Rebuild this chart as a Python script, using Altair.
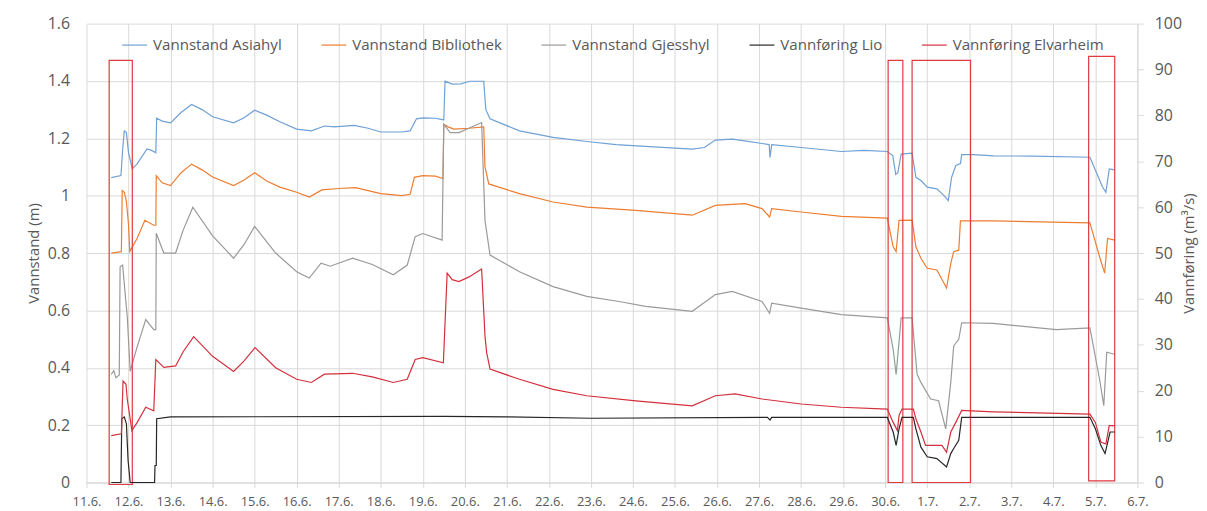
import json
import altair as alt
import pandas as pd

# ---------------- data ----------------
series_names = ["Vannstand Asiahyl", "Vannstand Bibliothek", "Vannstand Gjesshyl",
                "Vannføring Lio", "Vannføring Elvarheim"]
series_colors = ["#6FA0D6", "#ED7D31", "#9A9A9A", "#262626", "#D42F3C"]
series_widths = [1.2, 1.2, 1.6, 1.2, 1.3]

day_labels = ["11.6.", "12.6.", "13.6.", "14.6.", "15.6.", "16.6.", "17.6.", "18.6.",
              "19.6.", "20.6.", "21.6.", "22.6.", "23.6.", "24.6.", "25.6.", "26.6.",
              "27.6.", "28.6.", "29.6.", "30.6.", "1.7.", "2.7.", "3.7.", "4.7.",
              "5.7.", "6.7."]
left_ticks = [0, 0.2, 0.4, 0.6, 0.8, 1, 1.2, 1.4, 1.6]
right_ticks = [0, 10, 20, 30, 40, 50, 60, 70, 80, 90, 100]

# days after 11.6. 00:00
asia_t = [0.59, 0.82, 0.86, 0.90, 0.95, 1.00, 1.09, 1.20, 1.44, 1.55, 1.65, 1.67, 1.80, 2.00,
          2.25, 2.50, 2.75, 3.00, 3.50, 3.75, 4.00, 4.30, 4.60, 5.00, 5.35, 5.66, 5.90, 6.37,
          6.70, 7.00, 7.50, 7.70, 7.85, 8.00, 8.30, 8.50, 8.53, 8.70, 8.90, 9.12, 9.45, 9.50,
          9.60, 10.30, 11.10, 11.90, 12.60, 13.30, 14.41, 14.70, 14.96, 15.36, 15.70, 16.07,
          16.24, 16.26, 16.30, 17.00, 17.96, 18.50, 19.05, 19.18, 19.25, 19.30, 19.38, 19.64,
          19.73, 19.85, 20.00, 20.23, 20.40, 20.50, 20.58, 20.68, 20.79, 20.82, 21.10, 21.57,
          22.50, 23.87, 24.17, 24.25, 24.33, 24.46]
asia_v = [1.063, 1.070, 1.160, 1.226, 1.220, 1.150, 1.094, 1.110, 1.163, 1.158, 1.150, 1.270,
          1.260, 1.254, 1.290, 1.318, 1.300, 1.275, 1.254, 1.272, 1.298, 1.280, 1.258, 1.232,
          1.226, 1.243, 1.240, 1.245, 1.235, 1.222, 1.222, 1.226, 1.268, 1.271, 1.270, 1.264,
          1.399, 1.389, 1.390, 1.399, 1.399, 1.300, 1.268, 1.226, 1.203, 1.189, 1.178, 1.172,
          1.162, 1.168, 1.194, 1.197, 1.190, 1.182, 1.178, 1.133, 1.178, 1.168, 1.154, 1.158,
          1.154, 1.140, 1.074, 1.080, 1.145, 1.148, 1.064, 1.053, 1.030, 1.024, 1.000, 0.983,
          1.064, 1.105, 1.112, 1.143, 1.143, 1.139, 1.138, 1.134, 1.030, 1.012, 1.093, 1.090]

bibl_t = [0.59, 0.83, 0.85, 0.90, 0.95, 1.00, 1.03, 1.20, 1.39, 1.60, 1.65, 1.66, 1.80, 2.00,
          2.25, 2.50, 2.75, 3.00, 3.50, 3.75, 4.00, 4.30, 4.60, 5.00, 5.30, 5.60, 6.00, 6.40,
          7.00, 7.50, 7.70, 7.80, 8.00, 8.30, 8.48, 8.50, 8.60, 8.74, 9.10, 9.45, 9.48, 9.57,
          10.30, 11.10, 11.90, 13.07, 14.41, 14.96, 15.67, 16.07, 16.25, 16.30, 17.00, 17.96,
          19.05, 19.19, 19.26, 19.33, 19.64, 19.73, 19.85, 20.00, 20.23, 20.46, 20.56, 20.63,
          20.75, 20.79, 21.57, 23.87, 24.10, 24.22, 24.29, 24.46]
bibl_v = [0.800, 0.805, 1.018, 1.012, 0.980, 0.900, 0.805, 0.850, 0.914, 0.897, 0.897, 1.070,
          1.045, 1.035, 1.080, 1.110, 1.090, 1.065, 1.035, 1.055, 1.080, 1.050, 1.030, 1.012,
          0.995, 1.020, 1.025, 1.028, 1.007, 1.000, 1.005, 1.064, 1.070, 1.068, 1.060, 1.249,
          1.240, 1.232, 1.235, 1.240, 1.100, 1.041, 1.007, 0.978, 0.960, 0.949, 0.932, 0.966,
          0.972, 0.955, 0.926, 0.955, 0.943, 0.928, 0.922, 0.822, 0.805, 0.914, 0.915, 0.822,
          0.782, 0.747, 0.741, 0.678, 0.764, 0.805, 0.810, 0.912, 0.912, 0.905, 0.787, 0.730,
          0.851, 0.845]

gjes_t = [0.59, 0.65, 0.70, 0.78, 0.80, 0.86, 0.97, 1.04, 1.20, 1.41, 1.60, 1.65, 1.66, 1.84,
          2.12, 2.30, 2.53, 3.00, 3.50, 3.75, 4.00, 4.50, 5.00, 5.30, 5.58, 5.80, 6.33, 6.80,
          7.30, 7.63, 7.82, 8.00, 8.46, 8.50, 8.65, 8.86, 9.40, 9.48, 9.60, 10.30, 11.10,
          11.90, 12.67, 13.30, 14.41, 14.96, 15.36, 16.07, 16.25, 16.30, 17.00, 17.96, 19.05,
          19.19, 19.26, 19.38, 19.64, 19.76, 19.85, 20.08, 20.27, 20.44, 20.56, 20.63, 20.75,
          20.82, 21.57, 23.07, 23.87, 24.10, 24.20, 24.27, 24.46]
gjes_v = [0.377, 0.390, 0.365, 0.375, 0.752, 0.758, 0.579, 0.388, 0.470, 0.568, 0.533, 0.533,
          0.869, 0.800, 0.800, 0.880, 0.960, 0.860, 0.782, 0.830, 0.893, 0.800, 0.735, 0.713,
          0.765, 0.754, 0.782, 0.760, 0.724, 0.758, 0.857, 0.868, 0.845, 1.249, 1.220, 1.220,
          1.255, 0.914, 0.793, 0.735, 0.683, 0.649, 0.631, 0.614, 0.597, 0.655, 0.666, 0.631,
          0.590, 0.625, 0.608, 0.585, 0.574, 0.464, 0.377, 0.574, 0.574, 0.377, 0.349, 0.291,
          0.285, 0.187, 0.349, 0.476, 0.499, 0.557, 0.555, 0.533, 0.539, 0.360, 0.268, 0.454,
          0.447]

lio_t = [0.59, 0.82, 0.84, 0.90, 0.95, 0.99, 1.04, 1.62, 1.63, 1.66, 1.67, 2.00, 8.50, 10.00,
         12.00, 16.20, 16.26, 16.30, 19.05, 19.19, 19.26, 19.33, 19.40, 19.67, 19.73, 19.85,
         20.00, 20.23, 20.46, 20.56, 20.63, 20.75, 20.82, 23.87, 24.00, 24.13, 24.23, 24.35,
         24.46]
lio_v = [0.0, 0.0, 13.9, 14.3, 12.8, 4.8, 0.0, 0.0, 3.7, 3.7, 13.9, 14.3, 14.4, 14.3,
         14.0, 14.2, 13.6, 14.2, 14.2, 11.0, 8.1, 11.7, 14.2, 14.2, 11.7, 7.7,
         5.6, 5.2, 3.4, 6.3, 7.4, 9.2, 14.2, 14.2, 11.7, 8.1, 6.3, 11.0,
         11.0]

elv_t = [0.59, 0.83, 0.87, 0.94, 0.97, 1.08, 1.20, 1.41, 1.60, 1.65, 1.84, 2.12, 2.30, 2.55,
         3.00, 3.50, 3.75, 4.01, 4.50, 5.00, 5.35, 5.66, 6.33, 6.80, 7.30, 7.63, 7.82, 8.00,
         8.49, 8.58, 8.70, 8.86, 9.10, 9.40, 9.48, 9.52, 9.60, 10.30, 11.10, 11.90, 13.07,
         14.41, 14.96, 15.43, 16.07, 17.00, 17.96, 19.05, 19.19, 19.29, 19.33, 19.40, 19.67,
         19.73, 19.85, 19.96, 20.35, 20.46, 20.56, 20.68, 20.82, 21.57, 23.87, 24.00, 24.13,
         24.25, 24.33, 24.46]
elv_v = [10.2, 10.6, 22.1, 21.4, 18.2, 11.3, 13.0, 16.4, 15.6, 26.8, 25.1, 25.4, 28.5, 31.8,
         27.5, 24.2, 26.5, 29.4, 25.0, 22.5, 21.8, 23.6, 23.8, 23.0, 21.8, 22.5, 26.8, 27.2,
         26.1, 45.6, 44.2, 43.8, 44.8, 46.5, 31.9, 28.3, 24.7, 22.5, 20.3, 18.9, 17.8,
         16.7, 18.9, 19.3, 18.2, 17.1, 16.4, 16.0, 13.1, 11.3, 14.6, 16.0, 16.0,
         13.9, 11.0, 8.1, 8.1, 6.6, 11.0, 13.1, 15.7, 15.4, 14.9, 13.1, 8.8,
         8.4, 12.4, 12.4]

# red marking boxes (x in days, y in m on left axis)
box_start = [0.54, 19.07, 19.64, 23.84]
box_end = [1.09, 19.42, 21.03, 24.46]
box_top = [1.472, 1.472, 1.472, 1.486]
box_bottom = [-0.007, 0.0, 0.0, 0.006]

# ---------------- tables ----------------
def long(name, t, v):
    return pd.DataFrame({"day": t, "value": v, "series": name})

left_df = pd.concat([long(series_names[0], asia_t, asia_v),
                     long(series_names[1], bibl_t, bibl_v),
                     long(series_names[2], gjes_t, gjes_v)], ignore_index=True)
left_df["order"] = range(len(left_df))
right_df = pd.concat([long(series_names[3], lio_t, lio_v),
                      long(series_names[4], elv_t, elv_v)], ignore_index=True)
right_df["order"] = range(len(right_df))
box_df = pd.DataFrame({"x1": box_start, "x2": box_end, "top": box_top, "bottom": box_bottom})

FONT = "Open Sans"
TXT = "#595959"
GRID = "#d9d9d9"

x_enc = alt.X("day:Q", title=None,
              scale=alt.Scale(domain=[0, 25], nice=False, zero=False),
              axis=alt.Axis(values=list(range(26)),
                            labelExpr=json.dumps(day_labels) + "[datum.value]",
                            labelFontSize=13, labelPadding=8, tickSize=5,
                            grid=True, domain=True, labelFlush=False))

color_enc = alt.Color("series:N",
                      scale=alt.Scale(domain=series_names, range=series_colors),
                      sort=series_names,
                      legend=alt.Legend(title=None, orient="none", legendX=35, legendY=8,
                                        direction="horizontal", symbolType="stroke",
                                        symbolSize=625, symbolStrokeWidth=1.5,
                                        labelFont=FONT, labelFontSize=15.2, labelColor=TXT,
                                        labelOffset=5, columnPadding=36.5, padding=0,
                                        columns=5))
width_enc = alt.StrokeWidth("series:N",
                            scale=alt.Scale(domain=series_names, range=series_widths),
                            legend=None)

left_axis = alt.Axis(values=left_ticks, format="~g", title="Vannstand (m)",
                     domain=False, ticks=False, labelPadding=17, labelFontSize=16,
                     titleFontSize=15, titleAngle=270, titleX=-48, titleY=231,
                     titleAlign="center", titleBaseline="alphabetic", grid=True)
left_scale = alt.Scale(domain=[0, 1.6], nice=False, zero=False)

lines_left = alt.Chart(left_df).mark_line(interpolate="linear").encode(
    x=x_enc,
    y=alt.Y("value:Q", scale=left_scale, axis=left_axis),
    color=color_enc, strokeWidth=width_enc, order="order:Q")

boxes = alt.Chart(box_df).mark_rect(filled=False, stroke="#E0393E", strokeWidth=1.2).encode(
    x=alt.X("x1:Q", scale=alt.Scale(domain=[0, 25], nice=False, zero=False)),
    x2="x2:Q",
    y=alt.Y("top:Q", scale=left_scale, axis=left_axis),
    y2="bottom:Q")

lines_right = alt.Chart(right_df).mark_line(interpolate="linear").encode(
    x=x_enc,
    y=alt.Y("value:Q", scale=alt.Scale(domain=[0, 100], nice=False, zero=False),
            axis=alt.Axis(orient="right", values=right_ticks, format="d",
                          title="Vannføring (m³/s)", grid=False, domain=True,
                          ticks=True, tickSize=6, labelPadding=11, labelFontSize=16,
                          titleFontSize=15, titleAngle=270, titleX=56, titleY=231,
                          titleAlign="center", titleBaseline="alphabetic")),
    color=color_enc, strokeWidth=width_enc, order="order:Q")

left_layer = alt.layer(lines_left, boxes)

chart = alt.layer(left_layer, lines_right).resolve_scale(y="independent").properties(
    width=1058, height=462,
    padding={"left": 79, "top": 14, "right": 62, "bottom": 27},
    autosize=alt.AutoSizeParams(type="none"),
    background="white",
).configure_view(stroke=None).configure_axis(
    labelFont=FONT, titleFont=FONT, labelColor=TXT, titleColor=TXT,
    titleFontWeight="normal", gridColor=GRID, domainColor=GRID, tickColor=GRID,
    gridWidth=1, domainWidth=1,
)

chart.save("out.html", embed_options={"renderer": "svg", "actions": False})
